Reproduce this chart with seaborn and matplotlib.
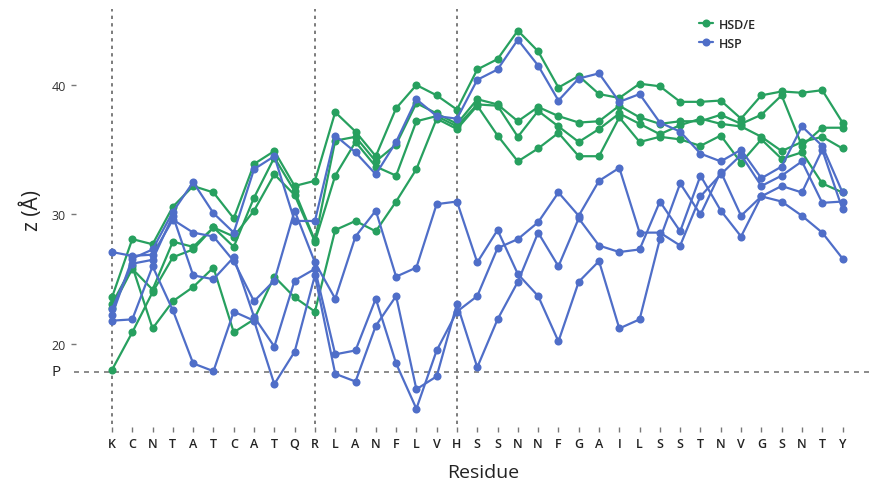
import numpy as np
import pandas as pd
import matplotlib
matplotlib.use("Agg")
import matplotlib.pyplot as plt
from matplotlib.lines import Line2D
import seaborn as sns

# Residue sequence along the x axis
residues = list("KCNTATCATQRLANFLVHSSNNFGAILSSTNVGSNTY")

# z position (Å) of each residue, HSD/E runs
hsde_1 = [23.6, 28.1, 27.7, 30.6, 32.2, 31.7, 29.7, 33.9, 34.9, 32.2, 32.6, 37.9, 36.4, 34.5, 38.2, 40.0, 39.2, 38.1,
          41.2, 42.0, 44.2, 42.6, 39.8, 40.7, 39.3, 39.0, 40.1, 39.9, 38.7, 38.7, 38.8, 37.4, 39.2, 39.5, 39.4, 39.6, 37.1]
hsde_2 = [22.8, 25.8, 24.2, 27.9, 27.5, 29.0, 27.5, 31.3, 34.4, 31.8, 28.0, 35.7, 36.0, 34.1, 35.4, 38.6, 37.8, 37.0,
          38.9, 38.5, 37.2, 38.3, 37.6, 37.1, 37.2, 38.4, 37.5, 37.0, 37.2, 37.2, 37.7, 37.0, 37.7, 39.2, 35.3, 36.7, 36.7]
hsde_3 = [23.1, 26.0, 21.2, 23.3, 24.4, 25.9, 20.9, 21.9, 25.2, 23.6, 22.5, 28.8, 29.5, 28.7, 31.0, 33.5, 37.4, 36.6,
          38.4, 36.1, 34.1, 35.1, 36.3, 34.5, 34.5, 37.5, 35.6, 36.0, 35.8, 35.3, 36.1, 34.0, 35.8, 34.3, 34.8, 32.4, 31.7]
hsde_4 = [18.0, 20.9, 24.0, 26.7, 27.3, 29.0, 28.3, 30.3, 33.1, 31.5, 27.9, 33.0, 35.6, 33.7, 33.0, 37.2, 37.6, 36.8,
          38.5, 38.4, 36.0, 38.0, 36.8, 35.6, 36.6, 37.8, 37.0, 36.2, 36.9, 37.4, 37.0, 36.8, 36.0, 34.9, 35.6, 36.0, 35.1]

# z position (Å) of each residue, HSP runs
hsp_1 = [22.2, 26.6, 27.3, 30.2, 32.5, 30.1, 28.6, 33.5, 34.5, 29.5, 29.5, 36.1, 34.8, 33.1, 35.6, 38.9, 37.6, 37.4,
         40.4, 41.2, 43.5, 41.5, 38.8, 40.5, 40.9, 38.7, 39.3, 37.1, 36.4, 34.7, 34.1, 35.0, 32.8, 33.7, 36.8, 35.3, 31.7]
hsp_2 = [27.1, 26.8, 26.9, 29.6, 28.6, 28.3, 26.4, 23.3, 24.9, 30.3, 26.3, 23.5, 28.3, 30.3, 25.2, 25.9, 30.8, 31.0,
         26.3, 28.8, 25.4, 23.7, 20.2, 24.8, 26.4, 21.2, 21.9, 28.1, 32.4, 30.0, 33.3, 29.9, 31.4, 31.0, 29.9, 28.6, 26.6]
hsp_3 = [22.7, 26.2, 26.5, 29.9, 25.3, 25.0, 26.7, 22.1, 19.8, 24.9, 25.8, 19.2, 19.5, 23.5, 18.5, 15.0, 19.5, 22.5,
         23.7, 27.4, 28.1, 29.4, 31.7, 29.9, 32.6, 33.6, 28.6, 28.6, 27.6, 31.4, 33.1, 34.6, 32.2, 33.0, 34.1, 30.9, 31.0]
hsp_4 = [21.8, 21.9, 26.0, 22.6, 18.5, 17.9, 22.5, 21.8, 16.9, 19.4, 25.3, 17.7, 17.1, 21.4, 23.7, 16.5, 17.5, 23.1,
         18.2, 21.9, 24.8, 28.6, 26.0, 29.7, 27.6, 27.1, 27.3, 31.0, 28.7, 33.0, 30.3, 28.3, 31.4, 32.2, 31.7, 35.0, 30.4]

# Phosphate plane and residues marked by vertical guides
p_level = 17.85
guide_residues = [0, 10, 17]
ytick_values = [20, 30, 40]

groups = {"HSD/E": [hsde_1, hsde_2, hsde_3, hsde_4],
          "HSP": [hsp_1, hsp_2, hsp_3, hsp_4]}
palette = {"HSD/E": "#27a05f", "HSP": "#4f6ec8"}

rows = []
for g, runs in groups.items():
    for r, vals in enumerate(runs):
        for i, v in enumerate(vals):
            rows.append({"pos": i, "z": v, "group": g, "run": f"{g}-{r}"})
df = pd.DataFrame(rows)

sns.set_style("white")
plt.rcParams["font.family"] = ["Open Sans", "DejaVu Sans"]

fig = plt.figure(figsize=(8.71, 4.85), dpi=100)
ax = fig.add_axes([0.1146, 0.1237, 0.883, 0.8557])

for x in guide_residues:
    ax.axvline(x, color="#666666", lw=1.2, ls=(0, (2, 2.5)), zorder=0)
ax.plot([-1.85, 37.3], [p_level, p_level], color="#777777", lw=1.2,
        ls=(0, (3, 3)), clip_on=False, zorder=0)
ax.text(-2.75, p_level, "P", ha="center", va="center", fontsize=11, color="#222222")

sns.lineplot(data=df, x="pos", y="z", hue="group", units="run", estimator=None,
             palette=palette, hue_order=["HSD/E", "HSP"], sort=False,
             marker="o", markersize=5.8, markeredgewidth=0, linewidth=1.6,
             legend=False, ax=ax, zorder=3)

ax.set_xlim(-0.6, 37.3)
ax.set_ylim(13.82, 45.87)
for s in ax.spines.values():
    s.set_visible(False)
ax.spines["left"].set_position(("outward", 17))
ax.spines["bottom"].set_position(("outward", 2))

ax.set_xticks(range(len(residues)))
ax.set_xticklabels(residues, fontsize=9, fontweight="semibold", color="#222222")
ax.set_yticks(ytick_values)
ax.set_yticklabels([str(v) for v in ytick_values], fontsize=9, color="#333333")
ax.tick_params(axis="x", bottom=True, length=3.5, width=1.0, color="#777777", pad=4)
ax.tick_params(axis="y", left=True, length=3.5, width=1.0, color="#777777", pad=4)
ax.set_xlabel("")
ax.set_ylabel("")

fig.text(0.036, 0.565, "z (Å)", rotation=90, ha="center", va="center", fontsize=15, color="#222222")
fig.text(0.555, 0.025, "Residue", ha="center", va="center", fontsize=14, color="#222222")

handles = [Line2D([], [], color=palette[g], marker="o", markersize=5.8, markeredgewidth=0, lw=1.6)
           for g in ["HSD/E", "HSP"]]
ax.legend(handles, ["HSD/E", "HSP"], loc="upper left", bbox_to_anchor=(0.79, 0.985),
          bbox_transform=fig.transFigure, frameon=False, handlelength=1.1,
          handletextpad=0.5, labelspacing=0.5, prop={"size": 9, "weight": "semibold"})

fig.savefig("out.png", dpi=100)
